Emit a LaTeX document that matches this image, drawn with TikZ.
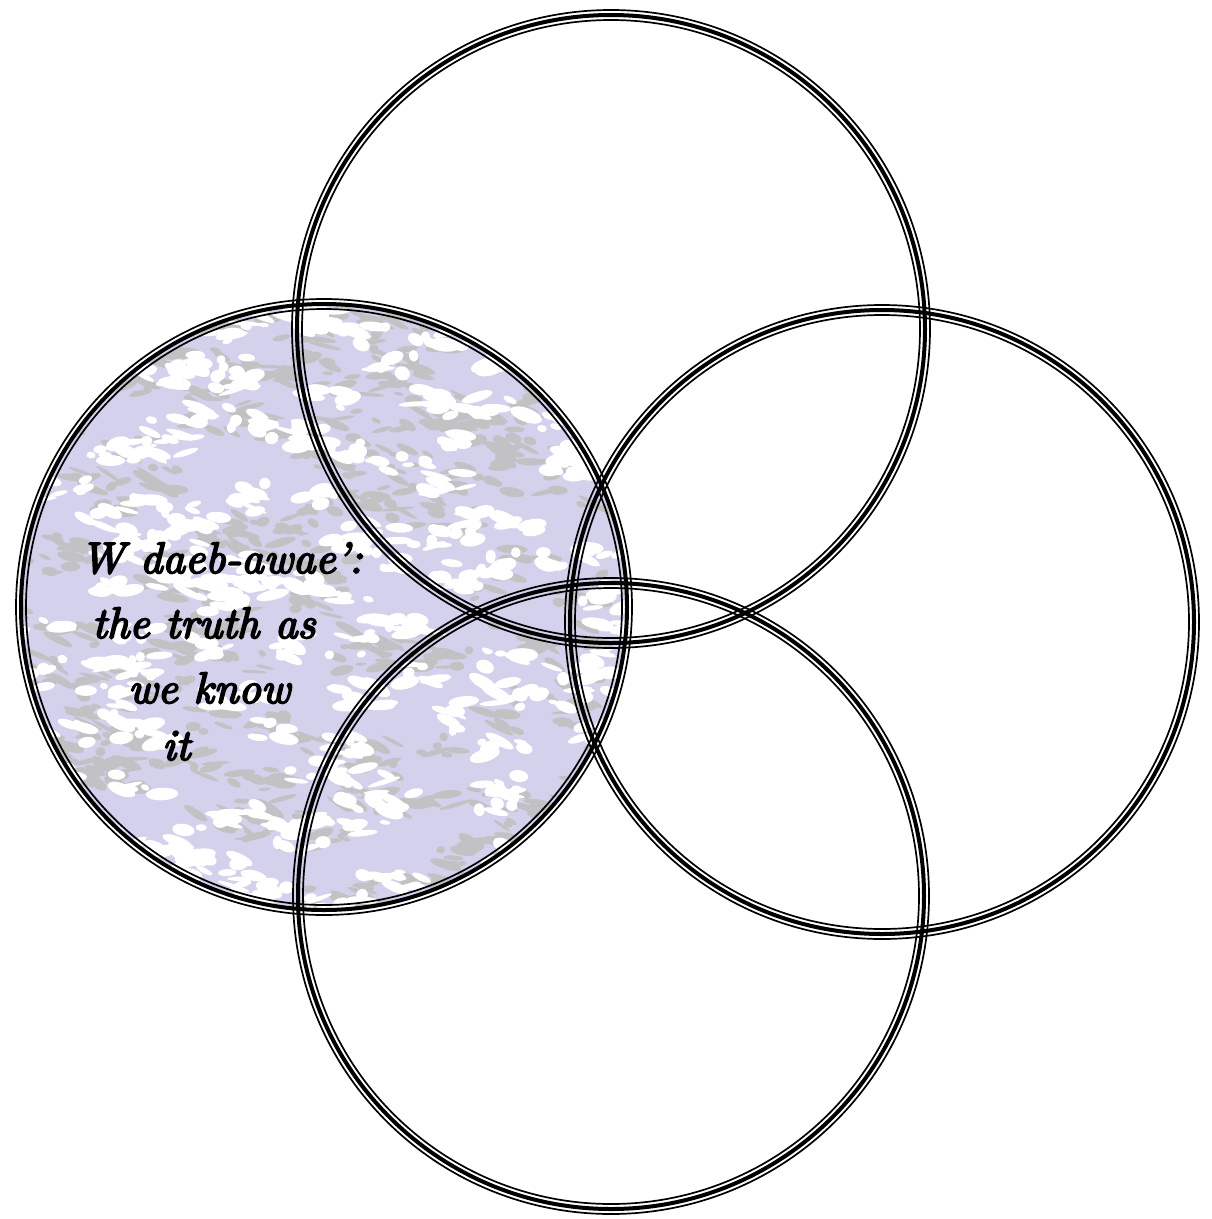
\documentclass[tikz,border=0pt]{standalone}
\usepackage{fontspec}
\newfontface\calli{lmroman10-italic.otf}[FakeBold=4]
\definecolor{lav}{RGB}{211,209,236}
\definecolor{blot}{RGB}{194,194,196}
\tikzset{
  thinring/.style={line width=1.7pt, black},
  thickring/.style={line width=4pt, black},
  label/.style={anchor=base west, inner sep=0pt, font=\fontsize{44}{50}\calli}
}
\newcommand\triplering[2]{%
  \draw[thinring] (#1) circle[radius=#2pt+5pt];
  \draw[thickring] (#1) circle[radius=#2pt];
  \draw[thinring] (#1) circle[radius=#2pt-5pt];
}
\begin{document}
\begin{tikzpicture}[x=1pt,y=-1pt]
\useasboundingbox (0,0) rectangle (1212,1219);
\coordinate (T) at (611,329);
\coordinate (R) at (882,622);
\coordinate (B) at (611,896);
\coordinate (L) at (324,607);
% textured fill of left circle
\begin{scope}
  \clip (L) circle[radius=303pt];
  \fill[lav] (L) circle[radius=303pt];
  \pgfmathsetseed{11}
  \foreach \i in {1,...,190}{
    \pgfmathsetmacro\cx{15+rnd*620}
    \pgfmathsetmacro\cy{298+rnd*620}
    \foreach \j in {1,...,6}{
      \pgfmathsetmacro\px{\cx+rand*28}
      \pgfmathsetmacro\py{\cy+rand*12}
      \pgfmathsetmacro\rx{4+rnd*13}
      \pgfmathsetmacro\ry{1.5+rnd*3.5}
      \pgfmathsetmacro\ang{-35+rnd*55}
      \fill[blot, rotate around={\ang:(\px,\py)}] (\px,\py) ellipse[x radius=\rx pt, y radius=\ry pt];
    }
  }
  \foreach \i in {1,...,170}{
    \pgfmathsetmacro\cx{15+rnd*620}
    \pgfmathsetmacro\cy{298+rnd*620}
    \foreach \j in {1,...,6}{
      \pgfmathsetmacro\px{\cx+rand*26}
      \pgfmathsetmacro\py{\cy+rand*11}
      \pgfmathsetmacro\rx{4+rnd*13}
      \pgfmathsetmacro\ry{2+rnd*5}
      \pgfmathsetmacro\ang{-30+rnd*50}
      \fill[white, rotate around={\ang:(\px,\py)}] (\px,\py) ellipse[x radius=\rx pt, y radius=\ry pt];
    }
  }
\end{scope}
% rings
\triplering{T}{314}
\triplering{R}{312}
\triplering{B}{313}
\triplering{L}{303}
% text
\node[label] (l1) at (80,573) {W daeb-awae’:};
\node[label] (l2) at (92,638) {the truth as};
\node[label] (l3) at (128,703) {we know};
\node[label] (l4) at (162,760) {it};
\end{tikzpicture}
\end{document}
